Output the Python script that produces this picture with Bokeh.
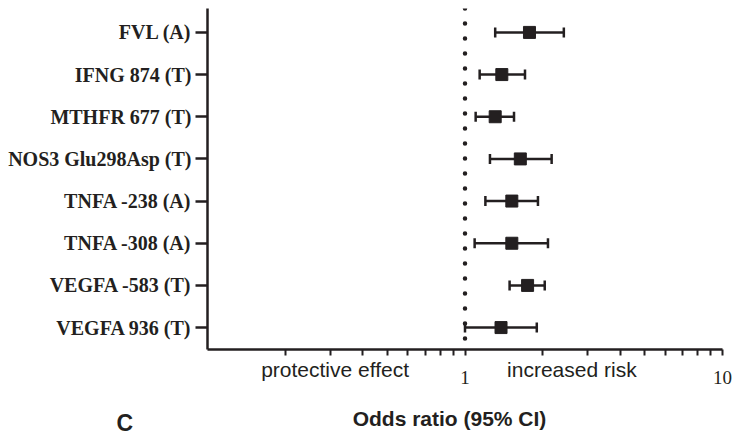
from bokeh.plotting import figure
from bokeh.models import (ColumnDataSource, FixedTicker, Whisker, TeeHead, Span, Label,
                          Range1d, LogAxis)
from bokeh.embed import file_html
from bokeh.resources import INLINE

# ---- data ----
genes = ["FVL (A)", "IFNG 874 (T)", "MTHFR 677 (T)", "NOS3 Glu298Asp (T)",
         "TNFA -238 (A)", "TNFA -308 (A)", "VEGFA -583 (T)", "VEGFA 936 (T)"]
odds_ratio = [1.78, 1.39, 1.31, 1.64, 1.52, 1.52, 1.75, 1.38]
ci_low = [1.31, 1.14, 1.10, 1.25, 1.20, 1.09, 1.49, 1.00]
ci_high = [2.42, 1.71, 1.55, 2.17, 1.92, 2.10, 2.04, 1.90]
x_major_ticks = [1, 10]
x_tick_labels = {1: "1", 10: "10"}
x_minor_ticks = [0.2, 0.3, 0.4, 0.5, 0.6, 0.7, 0.8, 0.9,
                 2, 3, 4, 5, 6, 7, 8, 9]
side_labels = ["protective effect", "increased risk"]
side_label_at = [0.313, 2.6]

INK = "#231f20"
n = len(genes)
ypos = list(range(n, 0, -1))

src = ColumnDataSource(dict(y=ypos, orv=odds_ratio, lo=ci_low, hi=ci_high))

p = figure(width=732, height=435, x_axis_type="log",
           x_range=Range1d(0.1, 10), y_range=Range1d(0.48, n + 0.567),
           output_backend="svg", toolbar_location=None,
           min_border_left=207, min_border_right=10,
           min_border_top=8, min_border_bottom=85)
p.outline_line_color = None
p.grid.visible = False
p.background_fill_color = "white"
p.border_fill_color = "white"

# reference line at OR = 1 (dotted)
p.add_layout(Span(location=1, dimension="height", line_color=INK,
                  line_width=4.5, line_dash="0 15", line_cap="round"))

# confidence intervals
w = Whisker(source=src, base="y", lower="lo", upper="hi", dimension="width",
            line_color=INK, line_width=2.5,
            lower_head=TeeHead(size=10, line_color=INK, line_width=2.5),
            upper_head=TeeHead(size=10, line_color=INK, line_width=2.5))
p.add_layout(w)

p.scatter("orv", "y", source=src, marker="square", size=12,
          fill_color=INK, line_color=INK)

# x axis
xa = p.xaxis[0]
xa.ticker = FixedTicker(ticks=x_major_ticks, minor_ticks=x_minor_ticks)
xa.major_label_overrides = x_tick_labels
xa.axis_line_width = 2.5
xa.axis_line_color = INK
xa.major_tick_line_color = INK
xa.major_tick_line_width = 2
xa.major_tick_in = 0
xa.major_tick_out = 6
xa.minor_tick_line_color = INK
xa.minor_tick_line_width = 2
xa.minor_tick_in = 0
xa.minor_tick_out = 6
xa.major_label_text_font = "Liberation Serif"
xa.major_label_text_font_size = "19px"
xa.major_label_text_color = INK
xa.major_label_standoff = 15

# second (label-only) x axis for the side annotations
xa2 = LogAxis(ticker=FixedTicker(ticks=side_label_at, minor_ticks=[]),
              major_label_overrides={v: t for v, t in zip(side_label_at, side_labels)},
              axis_line_color=None, major_tick_line_color=None,
              minor_tick_line_color=None, major_tick_in=0, major_tick_out=0,
              minor_tick_in=0, minor_tick_out=0,
              major_label_standoff=-29,
              major_label_text_font="Liberation Sans",
              major_label_text_font_size="21px",
              major_label_text_color=INK)
p.add_layout(xa2, "below")

# y axis
ya = p.yaxis[0]
ya.ticker = FixedTicker(ticks=ypos, minor_ticks=[])
ya.major_label_overrides = {y: g for y, g in zip(ypos, genes)}
ya.axis_line_width = 2.5
ya.axis_line_color = INK
ya.major_tick_line_color = INK
ya.major_tick_line_width = 2.5
ya.major_tick_in = 0
ya.major_tick_out = 12
ya.minor_tick_line_color = None
ya.major_label_text_font = "Liberation Serif"
ya.major_label_text_font_style = "bold"
ya.major_label_text_font_size = "20px"
ya.major_label_text_color = INK
ya.major_label_standoff = 4

# bottom titles (in panels below the axes)
p.add_layout(Label(x=242, y=-9, x_units="screen", y_units="screen",
                   text="Odds ratio (95% CI)",
                   text_align="center", text_baseline="alphabetic",
                   text_font="Liberation Sans", text_font_style="bold",
                   text_font_size="21px", text_color=INK), "below")
p.add_layout(Label(x=-91, y=13, x_units="screen", y_units="screen",
                   text="C", text_align="left", text_baseline="alphabetic",
                   text_font="Liberation Sans", text_font_style="bold",
                   text_font_size="23px", text_color=INK), "below")

open("out.html", "w").write(file_html(p, INLINE))
